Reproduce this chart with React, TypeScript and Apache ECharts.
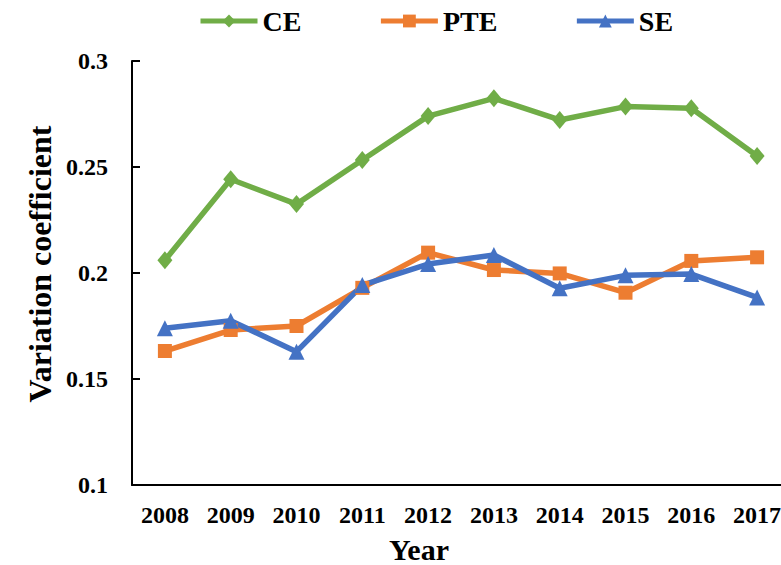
import React, { useEffect, useRef } from "react";
import * as echarts from "echarts";

const years = ["2008", "2009", "2010", "2011", "2012", "2013", "2014", "2015", "2016", "2017"];
const ce = [0.206, 0.2442, 0.2325, 0.2533, 0.274, 0.2824, 0.2722, 0.2785, 0.2777, 0.2552];
const pte = [0.1632, 0.1731, 0.175, 0.193, 0.2096, 0.2014, 0.1998, 0.1907, 0.2057, 0.2074];
const se = [0.1739, 0.1775, 0.1629, 0.1943, 0.2042, 0.2085, 0.1928, 0.1989, 0.1995, 0.1885];

const FONT = "'Liberation Serif', 'Times New Roman', serif";

export default function App() {
  const ref = useRef<HTMLDivElement>(null);
  useEffect(() => {
    if (!ref.current) return;
    const chart = echarts.init(ref.current, null, { renderer: "svg" });
    chart.setOption({
      animation: false,
      backgroundColor: "#ffffff",
      legend: {
        top: 2,
        left: 193,
        itemGap: 77,
        itemWidth: 57,
        itemHeight: 16,
        lineStyle: { width: 5 },
        textStyle: { fontFamily: FONT, fontWeight: "bold", fontSize: 28, color: "#000" },
        data: ["CE", "PTE", "SE"],
      },
      grid: { left: 132, top: 61, width: 658, height: 424, outerBoundsMode: "none", containLabel: false },
      xAxis: {
        type: "category",
        data: years,
        boundaryGap: true,
        axisLine: { lineStyle: { color: "#000", width: 2 } },
        axisTick: { inside: true, length: 8, lineStyle: { color: "#000", width: 2 } },
        axisLabel: { fontFamily: FONT, fontWeight: "bold", fontSize: 24, color: "#000", margin: 18 },
        splitLine: { show: false },
      },
      yAxis: {
        type: "value",
        min: 0.1,
        max: 0.3,
        interval: 0.05,
        axisLine: { show: true, lineStyle: { color: "#000", width: 2 } },
        axisTick: { show: true, inside: true, length: 8, lineStyle: { color: "#000", width: 2 } },
        axisLabel: { fontFamily: FONT, fontWeight: "bold", fontSize: 24, color: "#000", margin: 24 },
        splitLine: { show: false },
      },
      graphic: [
        {
          type: "text",
          x: 419,
          y: 549,
          style: {
            text: "Year",
            fontFamily: FONT,
            fontWeight: "bold",
            fontSize: 30,
            fill: "#000",
            align: "center",
            verticalAlign: "middle",
          },
        },
        {
          type: "text",
          x: 40,
          y: 264,
          rotation: Math.PI / 2,
          style: {
            text: "Variation coefficient",
            fontFamily: FONT,
            fontWeight: "bold",
            fontSize: 32,
            fill: "#000",
            align: "center",
            verticalAlign: "middle",
          },
        },
      ],
      series: [
        {
          name: "CE",
          type: "line",
          data: ce,
          symbol: "diamond",
          symbolSize: [15, 18],
          color: "#70AD47",
          lineStyle: { width: 5.5, color: "#70AD47" },
          itemStyle: { color: "#70AD47" },
        },
        {
          name: "PTE",
          type: "line",
          data: pte,
          symbol: "rect",
          symbolSize: 14,
          color: "#ED7D31",
          lineStyle: { width: 5.5, color: "#ED7D31" },
          itemStyle: { color: "#ED7D31" },
        },
        {
          name: "SE",
          type: "line",
          data: se,
          symbol: "triangle",
          symbolSize: 16,
          color: "#4472C4",
          lineStyle: { width: 5.5, color: "#4472C4" },
          itemStyle: { color: "#4472C4" },
        },
      ],
    });
    return () => chart.dispose();
  }, []);
  return (
    <div
      ref={ref}
      style={{ position: "fixed", left: 0, top: 0, width: 781, height: 565, background: "#fff" }}
    />
  );
}
